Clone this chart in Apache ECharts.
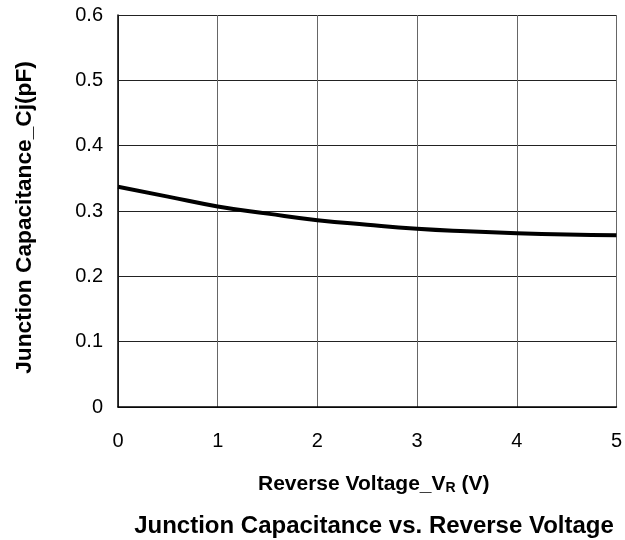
<!DOCTYPE html>
<html><head><meta charset="utf-8">
<script src="https://cdn.jsdelivr.net/npm/echarts@6/dist/echarts.min.js"></script>
<style>html,body{margin:0;padding:0;background:#fff}#c{width:625px;height:540px}</style>
</head><body><div id="c"></div>
<script>
var voltage = [0, 0.5, 1, 1.5, 2, 2.5, 3, 3.5, 4, 4.5, 5];
var capacitance = [0.337, 0.322, 0.307, 0.296, 0.286, 0.279, 0.273, 0.269, 0.266, 0.264, 0.263];
var xTicks = [0, 1, 2, 3, 4, 5];
var yTicks = [0, 0.1, 0.2, 0.3, 0.4, 0.5, 0.6];

var chart = echarts.init(document.getElementById('c'));
var font = 'Liberation Sans, Arial, sans-serif';
chart.setOption({
  animation: false,
  title: {
    text: 'Junction Capacitance vs. Reverse Voltage',
    left: 374, top: 514, textAlign: 'center', padding: 0,
    textStyle: {fontFamily: font, fontSize: 24, fontWeight: 'bold', color: '#000'}
  },
  grid: {left: 118, top: 15, right: 7, bottom: 133},
  xAxis: {
    type: 'value', min: 0, max: 5, interval: 1,
    axisLine: {show: true, lineStyle: {color: '#000', width: 1.5}},
    axisTick: {show: false},
    axisLabel: {margin: 24, fontFamily: font, fontSize: 20, color: '#000',
      formatter: function(v){ return xTicks.indexOf(v) >= 0 ? String(v) : ''; }},
    splitLine: {show: true, lineStyle: {color: '#666', width: 1}},
    name: '{a|Reverse Voltage_V}{s|R}{a| (V)}',
    nameLocation: 'middle', nameGap: 66,
    nameTextStyle: {padding: [0, 0, 0, 13], rich: {
      a: {fontFamily: font, fontSize: 21, fontWeight: 'bold', color: '#000'},
      s: {fontFamily: font, fontSize: 14, fontWeight: 'bold', color: '#000', verticalAlign: 'bottom', padding: [8,0,0,0]}
    }}
  },
  yAxis: {
    type: 'value', min: 0, max: 0.6, interval: 0.1,
    axisLine: {show: true, lineStyle: {color: '#000', width: 1.5}},
    axisTick: {show: false},
    axisLabel: {margin: 15, fontFamily: font, fontSize: 20, color: '#000',
      formatter: function(v){ var r = Math.round(v*10)/10; return r === 0 ? '0' : r.toFixed(1); }},
    splitLine: {show: true, lineStyle: {color: '#222', width: 1}},
    name: 'Junction Capacitance_Cj(pF)',
    nameLocation: 'middle', nameGap: 82, nameRotate: 90,
    nameTextStyle: {fontFamily: font, fontSize: 22.7, fontWeight: 'bold', color: '#000', padding: [0, 13, 0, 0]}
  },
  series: [{
    type: 'line', smooth: true, symbol: 'none',
    lineStyle: {color: '#000', width: 4},
    data: voltage.map(function(v, i){ return [v, capacitance[i]]; })
  }]
});
</script></body></html>
